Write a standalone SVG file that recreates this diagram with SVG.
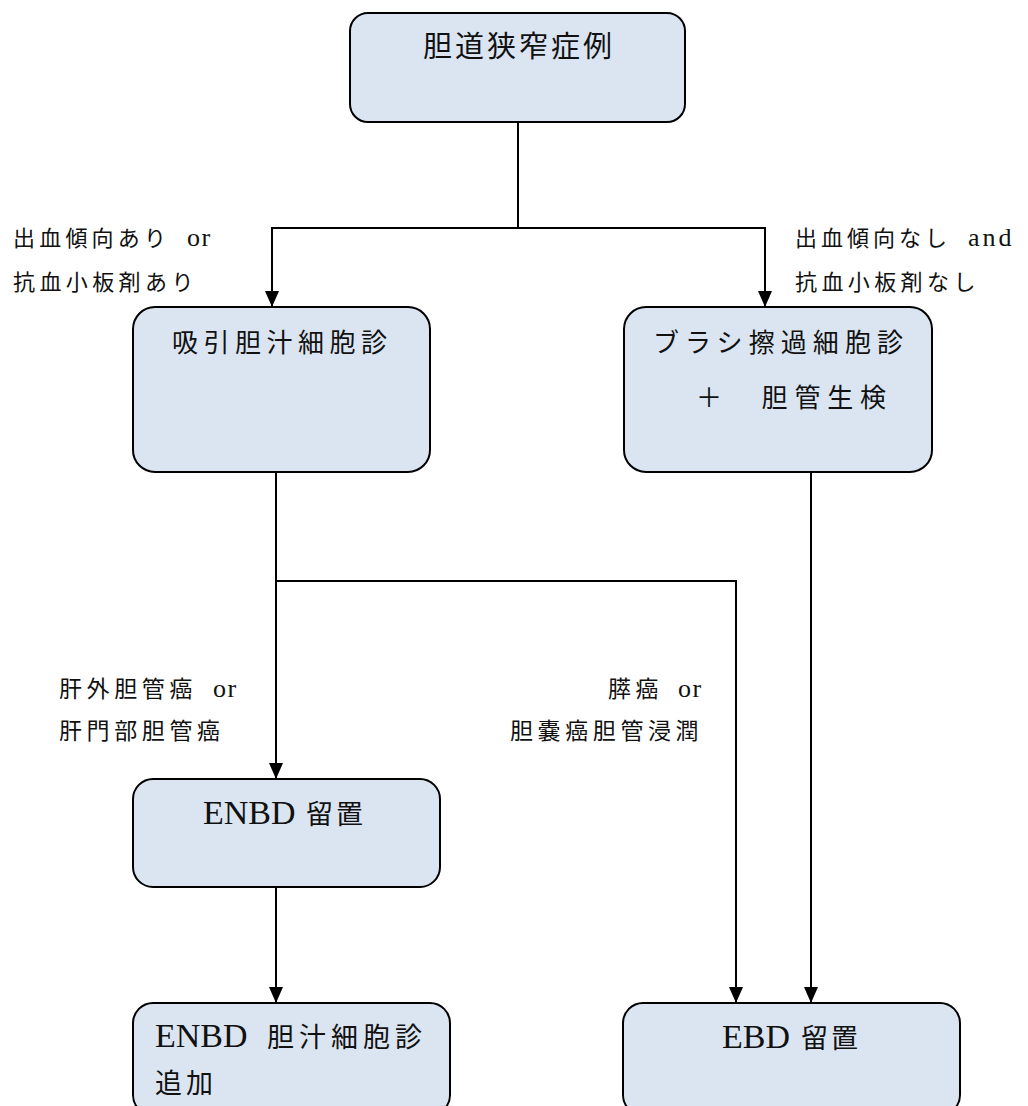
<svg xmlns="http://www.w3.org/2000/svg" width="1028" height="1106" viewBox="0 0 1028 1106">
  <defs>
    <style>
      .box { fill: #dbe5f1; stroke: #000; stroke-width: 2; }
      .conn { fill: none; stroke: #000; stroke-width: 2; }
      .t { font-family: "Liberation Serif", "Noto Sans CJK JP", serif; fill: #111; }
      .bt { font-size: 26px; }
      .lb { font-size: 22px; }
      .lb2 { font-size: 23px; }
      .en { font-size: 26px; }
      .lat { font-size: 34px; }
      .cjk { font-size: 27px; }
    </style>
    <marker id="arr" markerUnits="userSpaceOnUse" markerWidth="16" markerHeight="14" refX="16" refY="7" orient="auto">
      <path d="M0,0 L16,7 L0,14 z" fill="#000"/>
    </marker>
  </defs>
  <rect width="1028" height="1106" fill="#fff"/>

  <g id="connectors">
    <path class="conn" d="M518,122 V228"/>
    <path class="conn" d="M518,228 H272 V307" marker-end="url(#arr)"/>
    <path class="conn" d="M518,228 H765 V307" marker-end="url(#arr)"/>
    <path class="conn" d="M276,472 V779" marker-end="url(#arr)"/>
    <path class="conn" d="M276,581 H736 V1003" marker-end="url(#arr)"/>
    <path class="conn" d="M811,472 V1003" marker-end="url(#arr)"/>
    <path class="conn" d="M276,887 V1003" marker-end="url(#arr)"/>
  </g>

  <g id="labels">
    <text class="t lb" y="246"><tspan x="13" letter-spacing="4.2">出血傾向あり </tspan><tspan class="en" x="187" letter-spacing="1.5">or</tspan></text>
    <text class="t lb" x="13" y="290" letter-spacing="4.4">抗血小板剤あり</text>
    <text class="t lb" y="246"><tspan x="795" letter-spacing="4">出血傾向なし </tspan><tspan class="en" x="968" letter-spacing="3">and</tspan></text>
    <text class="t lb" x="795" y="290" letter-spacing="4.4">抗血小板剤なし</text>
    <text class="t lb2" y="697"><tspan x="59" letter-spacing="4.6">肝外胆管癌 </tspan><tspan class="en" x="213" letter-spacing="1.5">or</tspan></text>
    <text class="t lb2" x="59" y="739" letter-spacing="4.6">肝門部胆管癌</text>
    <text class="t lb2" y="697"><tspan x="608" letter-spacing="4.6">膵癌 </tspan><tspan class="en" x="678" letter-spacing="1.5">or</tspan></text>
    <text class="t lb2" x="510" y="739" letter-spacing="4.6">胆嚢癌胆管浸潤</text>
  </g>

  <g id="n1">
    <rect class="box" x="350" y="13" width="335" height="109" rx="18"/>
    <text class="t" font-size="29" x="423" y="57" textLength="189" lengthAdjust="spacing">胆道狭窄症例</text>
  </g>
  <g id="n2">
    <rect class="box" x="133" y="307" width="297" height="165" rx="22"/>
    <text class="t bt" x="172" y="352" textLength="215" lengthAdjust="spacing">吸引胆汁細胞診</text>
  </g>
  <g id="n3">
    <rect class="box" x="624" y="307" width="308" height="165" rx="22"/>
    <text class="t bt" x="653" y="352" textLength="250" lengthAdjust="spacing">ブラシ擦過細胞診</text>
    <text class="t bt" x="696" y="407" textLength="190" lengthAdjust="spacing">＋　胆管生検</text>
  </g>
  <g id="n4">
    <rect class="box" x="133" y="779" width="307" height="108" rx="20"/>
    <text class="t" y="824"><tspan class="lat" x="203">ENBD </tspan><tspan class="cjk" x="306" letter-spacing="3">留置</tspan></text>
  </g>
  <g id="n5">
    <rect class="box" x="133" y="1003" width="317" height="112" rx="20"/>
    <text class="t" y="1047"><tspan class="lat" x="155">ENBD </tspan><tspan class="cjk" x="267" letter-spacing="5">胆汁細胞診</tspan></text>
    <text class="t cjk" x="155" y="1093" letter-spacing="4">追加</text>
  </g>
  <g id="n6">
    <rect class="box" x="623" y="1003" width="337" height="112" rx="20"/>
    <text class="t" y="1048"><tspan class="lat" x="722">EBD </tspan><tspan class="cjk" x="801" letter-spacing="3">留置</tspan></text>
  </g>
</svg>
